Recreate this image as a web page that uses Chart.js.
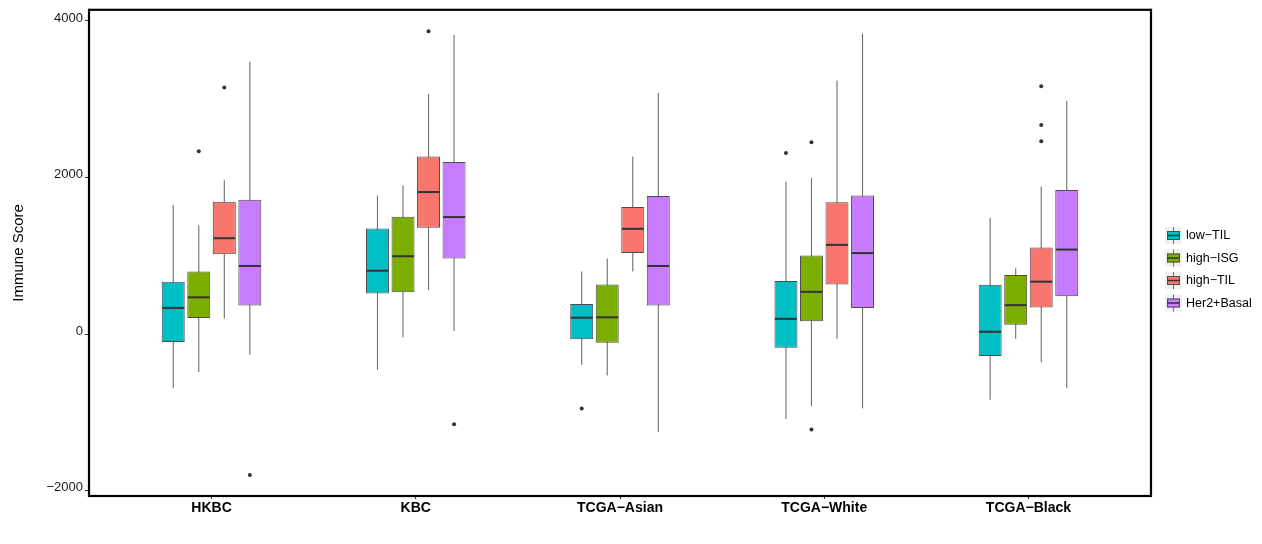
<!DOCTYPE html>
<html>
<head>
<meta charset="utf-8">
<script src="https://cdn.jsdelivr.net/npm/chart.js@4.4.1/dist/chart.umd.min.js"></script>
<style>
  html, body { margin: 0; padding: 0; background: #fff; }
  #wrap { width: 1262px; height: 544px; }
</style>
</head>
<body>
<div id="wrap"><canvas id="chart"></canvas></div>
<script>
// cohorts on the x axis
const cohorts = ['HKBC', 'KBC', 'TCGA\u2212Asian', 'TCGA\u2212White', 'TCGA\u2212Black'];
const subtypes = ['low\u2212TIL', 'high\u2212ISG', 'high\u2212TIL', 'Her2+Basal'];
const colors = ['#00BFC4', '#7CAE00', '#F8766D', '#C77CFF'];
const yTicks = [-2000, 0, 2000, 4000];

// [whisker low, q1, median, q3, whisker high] per cohort
const lowTilBoxes = [
    [-690, -100, 335, 670, 1645],
    [-455, 520, 810, 1350, 1770],
    [-390, -65, 210, 385, 800],
    [-1085, -175, 195, 680, 1945],
    [-840, -280, 30, 630, 1485]
];
const highIsgBoxes = [
    [-485, 205, 470, 800, 1390],
    [-40, 535, 995, 1500, 1900],
    [-530, -110, 215, 635, 965],
    [-920, 165, 540, 1005, 1995],
    [-60, 120, 370, 755, 845]
];
const highTilBoxes = [
    [200, 1020, 1225, 1690, 1970],
    [565, 1360, 1815, 2270, 3065],
    [800, 1035, 1345, 1625, 2270],
    [-60, 635, 1140, 1685, 3240],
    [-360, 340, 670, 1105, 1885]
];
const her2BasalBoxes = [
    [-265, 365, 870, 1715, 3480],
    [40, 965, 1495, 2200, 3820],
    [-1250, 365, 870, 1765, 3080],
    [-950, 335, 1035, 1770, 3840],
    [-690, 485, 1080, 1840, 2980]
];

// outlying points per cohort
const lowTilOutliers = [[], [], [-950], [2315], []];
const highIsgOutliers = [[2335], [], [], [2450, -1220], []];
const highTilOutliers = [[3150], [3870], [], [], [3165, 2670, 2465]];
const her2BasalOutliers = [[-1800], [-1150], [], [], []];

const allBoxes = [lowTilBoxes, highIsgBoxes, highTilBoxes, her2BasalBoxes];
const allOutliers = [lowTilOutliers, highIsgOutliers, highTilOutliers, her2BasalOutliers];

/** Whiskers behind boxes, medians and outliers on top, frame and legend last. */
const boxplotParts = {
    id: 'boxplotParts',
    beforeDatasetsDraw(chart) {
        const ctx = chart.ctx;
        const y = chart.scales.y;
        ctx.save();
        ctx.strokeStyle = '#6e6e6e';
        ctx.lineWidth = 1.1;
        chart.data.datasets.forEach((ds, d) => {
            const meta = chart.getDatasetMeta(d);
            meta.data.forEach((bar, i) => {
                const b = ds.boxes[i];
                ctx.beginPath();
                ctx.moveTo(bar.x, y.getPixelForValue(b[0]));
                ctx.lineTo(bar.x, y.getPixelForValue(b[4]));
                ctx.stroke();
            });
        });
        ctx.restore();
    },
    afterDatasetsDraw(chart) {
        const ctx = chart.ctx;
        const y = chart.scales.y;
        ctx.save();
        chart.data.datasets.forEach((ds, d) => {
            const meta = chart.getDatasetMeta(d);
            meta.data.forEach((bar, i) => {
                const b = ds.boxes[i];
                const half = bar.width / 2;
                const my = y.getPixelForValue(b[2]);
                ctx.strokeStyle = '#333';
                ctx.lineWidth = 2;
                ctx.beginPath();
                ctx.moveTo(bar.x - half + 0.5, my);
                ctx.lineTo(bar.x + half - 0.5, my);
                ctx.stroke();
                ctx.fillStyle = '#333';
                ds.outliers[i].forEach(v => {
                    ctx.beginPath();
                    ctx.arc(bar.x, y.getPixelForValue(v), 2, 0, Math.PI * 2);
                    ctx.fill();
                });
            });
        });
        ctx.restore();
    },
    afterDraw(chart) {
        const ctx = chart.ctx;
        const a = chart.chartArea;
        ctx.save();
        ctx.strokeStyle = '#000';
        ctx.lineWidth = 2.2;
        ctx.strokeRect(a.left, a.top, a.right - a.left, a.bottom - a.top);

        // legend
        const kx = a.right + 14;
        const ky0 = 227;
        subtypes.forEach((name, i) => {
            const top = ky0 + i * 22.5;
            ctx.fillStyle = '#f0f0f0';
            ctx.fillRect(kx, top, 17, 17);
            ctx.strokeStyle = '#6e6e6e';
            ctx.lineWidth = 1;
            ctx.beginPath();
            ctx.moveTo(kx + 8.5, top);
            ctx.lineTo(kx + 8.5, top + 17);
            ctx.stroke();
            ctx.fillStyle = colors[i];
            ctx.fillRect(kx + 2, top + 4, 13, 9);
            ctx.strokeStyle = '#4d4d4d';
            ctx.strokeRect(kx + 2.5, top + 4.5, 12, 8);
            ctx.strokeStyle = '#333';
            ctx.lineWidth = 1.5;
            ctx.beginPath();
            ctx.moveTo(kx + 2.5, top + 8.5);
            ctx.lineTo(kx + 14.5, top + 8.5);
            ctx.stroke();
            ctx.fillStyle = '#000';
            ctx.font = '12.5px "Liberation Sans", Arial, sans-serif';
            ctx.textBaseline = 'middle';
            ctx.textAlign = 'left';
            ctx.fillText(name, kx + 21, top + 9);
        });
        ctx.restore();
    }
};

const datasets = allBoxes.map((boxes, k) => ({
    label: subtypes[k],
    data: boxes.map((b, i) => ({ x: i + 1, y: [b[1], b[3]] })),
    boxes: boxes,
    outliers: allOutliers[k],
    backgroundColor: colors[k],
    borderColor: '#4d4d4d',
    borderWidth: 1,
    borderSkipped: false,
    categoryPercentage: 0.5,
    barPercentage: 0.9
}));

new Chart(document.getElementById('chart'), {
    type: 'bar',
    data: { datasets: datasets },
    options: {
        responsive: true,
        maintainAspectRatio: false,
        animation: false,
        layout: { padding: { left: 0, top: 8, right: 111, bottom: 0 } },
        plugins: {
            legend: { display: false },
            tooltip: { enabled: false }
        },
        scales: {
            x: {
                type: 'linear',
                min: 0.4,
                max: 5.6,
                offset: false,
                afterBuildTicks: s => { s.ticks = cohorts.map((c, i) => ({ value: i + 1 })); },
                afterFit: s => { s.height = 48; },
                grid: { offset: false, drawOnChartArea: false, drawTicks: true, tickLength: 3, color: '#333' },
                border: { display: false },
                ticks: {
                    padding: 1,
                    autoSkip: false,
                    maxRotation: 0,
                    color: '#000',
                    font: { family: '"Liberation Sans", Arial, sans-serif', size: 14, weight: 'bold' },
                    callback: v => cohorts[v - 1]
                }
            },
            y: {
                min: -2068,
                max: 4143,
                afterBuildTicks: s => { s.ticks = yTicks.map(v => ({ value: v })); },
                afterFit: s => { s.width = 89; },
                grid: { drawOnChartArea: false, drawTicks: true, tickLength: 4, color: '#333' },
                border: { display: false },
                title: {
                    display: true,
                    text: 'Immune Score',
                    color: '#000',
                    padding: { top: 10, bottom: 0 },
                    font: { family: '"Liberation Sans", Arial, sans-serif', size: 15 }
                },
                ticks: {
                    padding: 2,
                    labelOffset: -3,
                    color: '#1a1a1a',
                    font: { family: '"Liberation Sans", Arial, sans-serif', size: 13 },
                    callback: v => (v < 0 ? '\u2212' + Math.abs(v) : String(v))
                }
            }
        }
    },
    plugins: [boxplotParts]
});
</script>
</body>
</html>
